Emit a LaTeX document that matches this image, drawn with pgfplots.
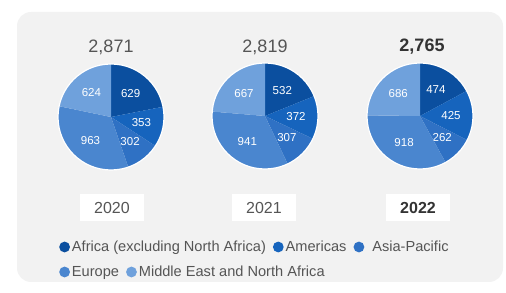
\documentclass[border=0pt]{standalone}
\usepackage{pgfplots}
\usepackage{pgfplotstable}
\usepackage{fontspec}
\setmainfont{Liberation Sans}
\pgfplotsset{compat=1.18}

\definecolor{cAfr}{HTML}{0B4F9F}
\definecolor{cAme}{HTML}{1664BD}
\definecolor{cAsi}{HTML}{2F71C4}
\definecolor{cEur}{HTML}{4A86CF}
\definecolor{cMen}{HTML}{6FA1DC}
\definecolor{panel}{HTML}{F2F2F2}
\definecolor{txt}{HTML}{555555}
\definecolor{txtb}{HTML}{333333}

\pgfplotstableread{
region v2020 v2021 v2022
Africa 629 532 474
Americas 353 372 425
AsiaPacific 302 307 262
Europe 963 941 918
MENA 624 667 686
}\datatable

\newcommand\drawpie[3]{%
  \gdef\pietot{0}%
  \foreach \r in {0,...,4}{%
    \pgfplotstablegetelem{\r}{#1}\of\datatable
    \pgfmathsetmacro\tmp{\pietot+\pgfplotsretval}%
    \xdef\pietot{\tmp}%
  }%
  \gdef\piecum{0}%
  \foreach \r/\c in {0/cAfr,1/cAme,2/cAsi,3/cEur,4/cMen}{%
    \pgfplotstablegetelem{\r}{#1}\of\datatable
    \let\val\pgfplotsretval
    \pgfmathsetmacro\fa{\piecum/\pietot}%
    \pgfmathsetmacro\fb{(\piecum+\val)/\pietot}%
    \pgfmathsetmacro\sa{90-360*\fa}%
    \pgfmathsetmacro\ea{90-360*\fb}%
    \pgfmathsetmacro\ma{(\sa+\ea)/2}%
    \fill[\c] (axis cs:#2,#3) -- ++(\sa:53bp) arc[start angle=\sa, end angle=\ea, radius=53bp] -- cycle;
    \node[text=white, font=\fontsize{11.5bp}{13bp}\selectfont] at ([shift={(\ma:31bp)}]axis cs:#2,#3) {\val};
    \pgfmathsetmacro\tmp{\piecum+\val}%
    \xdef\piecum{\tmp}%
  }%
  \draw[white, line width=1.2bp] (axis cs:#2,#3) circle (53bp);
}

\pgfplotsset{
  baseax/.style={
    at={(0,0)}, anchor=south west,
    scale only axis, width=506bp, height=293bp,
    xmin=0, xmax=506, ymin=0, ymax=293,
    hide axis, clip=false,
    legend columns=-1,
    legend image code/.code={\fill[##1, draw=none] (0bp,0bp) circle (5.4bp);},
    legend style={draw=none, fill=none, inner sep=0pt, anchor=west,
      font=\fontsize{14.6bp}{16bp}\selectfont, text=txt,
      /tikz/every even column/.append style={column sep=5bp},
      /tikz/every odd column/.append style={column sep=0bp}},
  }
}

\begin{document}
\begin{tikzpicture}
\begin{axis}[baseax, legend style={at={(59/506,46/293)}}]
  \path (axis cs:0,0) rectangle (axis cs:506,293);
  \fill[panel, rounded corners=14bp] (axis cs:17,11) rectangle (axis cs:503,281);
  \pgfplotsextra{%
    \drawpie{v2020}{111}{176}%
    \drawpie{v2021}{265}{177}%
    \drawpie{v2022}{420}{177}%
  }
  \node[text=txt, font=\fontsize{18bp}{20bp}\selectfont] at (axis cs:111,246) {2,871};
  \node[text=txt, font=\fontsize{18bp}{20bp}\selectfont] at (axis cs:265,246) {2,819};
  \node[text=txtb, font=\fontsize{18bp}{20bp}\selectfont\bfseries] at (axis cs:422,246) {2,765};
  \node[fill=white, text=txt, minimum width=64bp, minimum height=27bp, font=\fontsize{16bp}{18bp}\selectfont] at (axis cs:112,85) {2020};
  \node[fill=white, text=txt, minimum width=64bp, minimum height=27bp, font=\fontsize{16bp}{18bp}\selectfont] at (axis cs:264,85) {2021};
  \node[fill=white, text=txtb, minimum width=64bp, minimum height=27bp, font=\fontsize{16bp}{18bp}\selectfont\bfseries] at (axis cs:418,85) {2022};
  \addlegendimage{fill=cAfr}
  \addlegendentry{Africa (excluding North Africa)}
  \addlegendimage{fill=cAme}
  \addlegendentry{Americas\hspace{12bp}}
  \addlegendimage{fill=cAsi}
  \addlegendentry{\hspace{6bp}Asia-Pacific}
\end{axis}
\begin{axis}[baseax, legend style={at={(59/506,21/293)}}]
  \addlegendimage{fill=cEur}
  \addlegendentry{Europe\hspace{14bp}}
  \addlegendimage{fill=cMen}
  \addlegendentry{Middle East and North Africa}
\end{axis}
\end{tikzpicture}
\end{document}
